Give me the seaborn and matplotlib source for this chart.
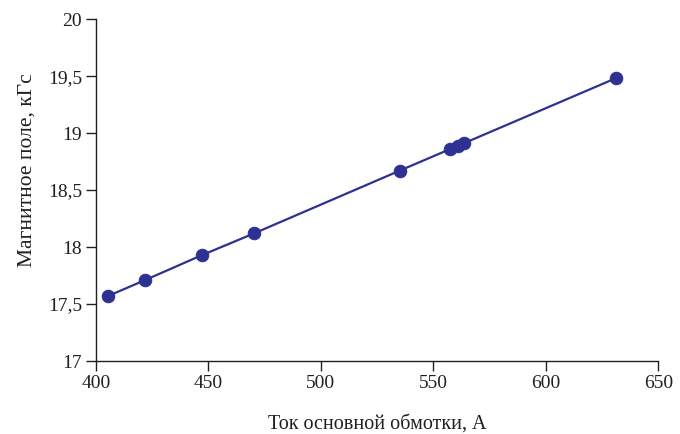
import matplotlib
matplotlib.use("Agg")
import matplotlib.pyplot as plt
import matplotlib.ticker as mticker
import pandas as pd
import seaborn as sns

# values
current = [405.3, 421.8, 447.2, 470.3, 535.0, 557.5, 561.0, 563.5, 631.0]
field = [17.57, 17.71, 17.93, 18.12, 18.67, 18.86, 18.89, 18.91, 19.48]

x_ticks = [400, 450, 500, 550, 600, 650]
y_ticks = [17, 17.5, 18, 18.5, 19, 19.5, 20]

data = pd.DataFrame({"I": current, "B": field})
color = "#2e3192"
ink = "#231f20"

sns.set_style("ticks")
plt.rcParams["font.family"] = ["Liberation Serif", "DejaVu Serif"]
plt.rcParams["font.size"] = 14

fig = plt.figure(figsize=(6.8, 4.34), dpi=100)
ax = fig.add_axes([0.141, 0.168, 0.827, 0.788])

sns.lineplot(data=data, x="I", y="B", ax=ax, color=color, linewidth=1.6,
             marker="o", markersize=9, markeredgecolor=color, markerfacecolor=color)

ax.set_xlim(400, 650)
ax.set_ylim(17, 20)
ax.set_xticks(x_ticks)
ax.set_yticks(y_ticks)
ax.yaxis.set_major_formatter(mticker.FuncFormatter(
    lambda v, p: ("%g" % v).replace(".", ",")))
ax.tick_params(axis="both", direction="out", length=7, width=1, colors=ink,
               labelsize=14, pad=3)
for s in ["top", "right"]:
    ax.spines[s].set_visible(False)
for s in ["left", "bottom"]:
    ax.spines[s].set_color(ink)
    ax.spines[s].set_linewidth(1)

ax.set_xlabel("Ток основной обмотки, А", fontsize=14.5, labelpad=16, color=ink)
ax.set_ylabel("Магнитное поле, кГс", fontsize=15.5, color=ink)
ax.yaxis.set_label_coords(-0.105, 0.558)
for lbl in ax.get_xticklabels() + ax.get_yticklabels():
    lbl.set_color(ink)

plt.savefig("out.png", dpi=100)
